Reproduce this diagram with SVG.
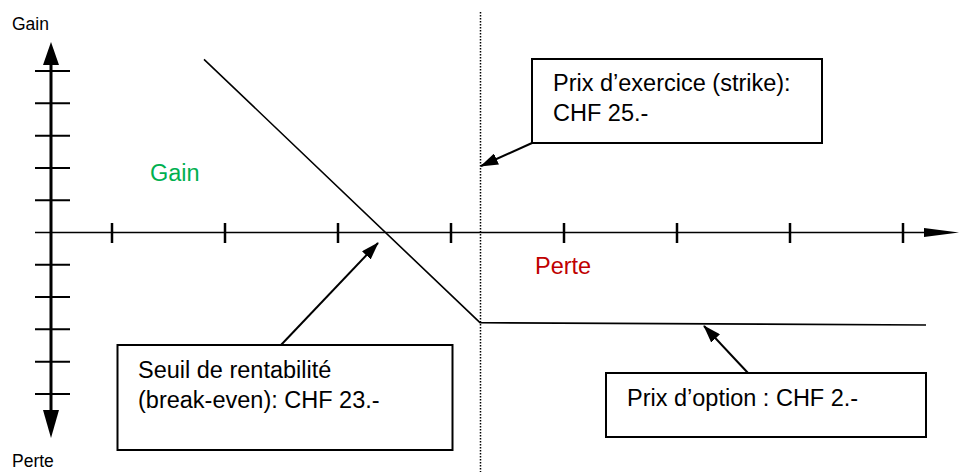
<svg xmlns="http://www.w3.org/2000/svg" width="960" height="472" viewBox="0 0 960 472">
<style>
text{font-family:"Liberation Sans",Arial,sans-serif;fill:#000}
.big{font-size:23.5px}
.small{font-size:17.5px}
.box{fill:#fff;stroke:#000;stroke-width:2}
.tick{stroke:#000;stroke-width:2}
.conn{stroke:#000;stroke-width:2;fill:none}
</style>
<defs>
<marker id="ah" viewBox="0 0 18 12" refX="17" refY="6" markerWidth="18" markerHeight="12" markerUnits="userSpaceOnUse" orient="auto">
<path d="M0,0 L18,6 L0,12 z" fill="#000"/>
</marker>
</defs>
<rect width="960" height="472" fill="#fff"/>
<g id="axes">
<line x1="51" y1="60" x2="51" y2="415" stroke="#000" stroke-width="3"/>
<polygon points="51,42 43,65 59,65" fill="#000"/>
<polygon points="51,438 43,410 59,410" fill="#000"/>
<line x1="35" y1="232.5" x2="928" y2="232.5" stroke="#000" stroke-width="1.6"/>
<polygon points="924,228 959,232.5 924,237" fill="#000"/>
<g class="tick">
<line x1="35" y1="71" x2="70" y2="71"/>
<line x1="35" y1="103.3" x2="70" y2="103.3"/>
<line x1="35" y1="135.7" x2="70" y2="135.7"/>
<line x1="35" y1="168" x2="70" y2="168"/>
<line x1="35" y1="200.3" x2="70" y2="200.3"/>
<line x1="35" y1="264.7" x2="70" y2="264.7"/>
<line x1="35" y1="297" x2="70" y2="297"/>
<line x1="35" y1="329.3" x2="70" y2="329.3"/>
<line x1="35" y1="361.7" x2="70" y2="361.7"/>
<line x1="35" y1="394" x2="70" y2="394"/>
</g>
<g class="tick" style="stroke-width:2.5">
<line x1="112" y1="223" x2="112" y2="243"/>
<line x1="225" y1="223" x2="225" y2="243"/>
<line x1="338" y1="223" x2="338" y2="243"/>
<line x1="451" y1="223" x2="451" y2="243"/>
<line x1="564" y1="223" x2="564" y2="243"/>
<line x1="677" y1="223" x2="677" y2="243"/>
<line x1="790" y1="223" x2="790" y2="243"/>
<line x1="903" y1="223" x2="903" y2="243"/>
</g>
<text class="small" x="12" y="30">Gain</text>
<text class="small" x="12" y="467">Perte</text>
</g>
<g id="strike-line">
<line x1="480.5" y1="12" x2="480.5" y2="472" stroke="#000" stroke-width="1.5" stroke-dasharray="1.5,1.5"/>
</g>
<g id="payoff">
<polyline points="204,59.3 480,322.7 926,325" fill="none" stroke="#000" stroke-width="1.6"/>
</g>
<g id="zones">
<text class="big" x="150" y="181" style="fill:#00B050">Gain</text>
<text class="big" x="535" y="274" style="fill:#C00000">Perte</text>
</g>
<g id="box-strike">
<rect class="box" x="532" y="59" width="290" height="84"/>
<text class="big" x="553" y="91">Prix d’exercice (strike):</text>
<text class="big" x="553" y="121">CHF 25.-</text>
</g>
<g id="box-breakeven">
<rect class="box" x="117.5" y="345" width="335" height="105"/>
<text class="big" x="138" y="378">Seuil de rentabilité</text>
<text class="big" x="138" y="408">(break-even): CHF 23.-</text>
</g>
<g id="box-option">
<rect class="box" x="606" y="373" width="320" height="64"/>
<text class="big" x="627" y="406">Prix d’option : CHF 2.-</text>
</g>
<g id="connectors">
<line class="conn" x1="532" y1="143" x2="481" y2="166" marker-end="url(#ah)"/>
<line class="conn" x1="281" y1="345" x2="378" y2="243" marker-end="url(#ah)"/>
<line class="conn" x1="748" y1="373" x2="704" y2="326" marker-end="url(#ah)"/>
</g>
</svg>
